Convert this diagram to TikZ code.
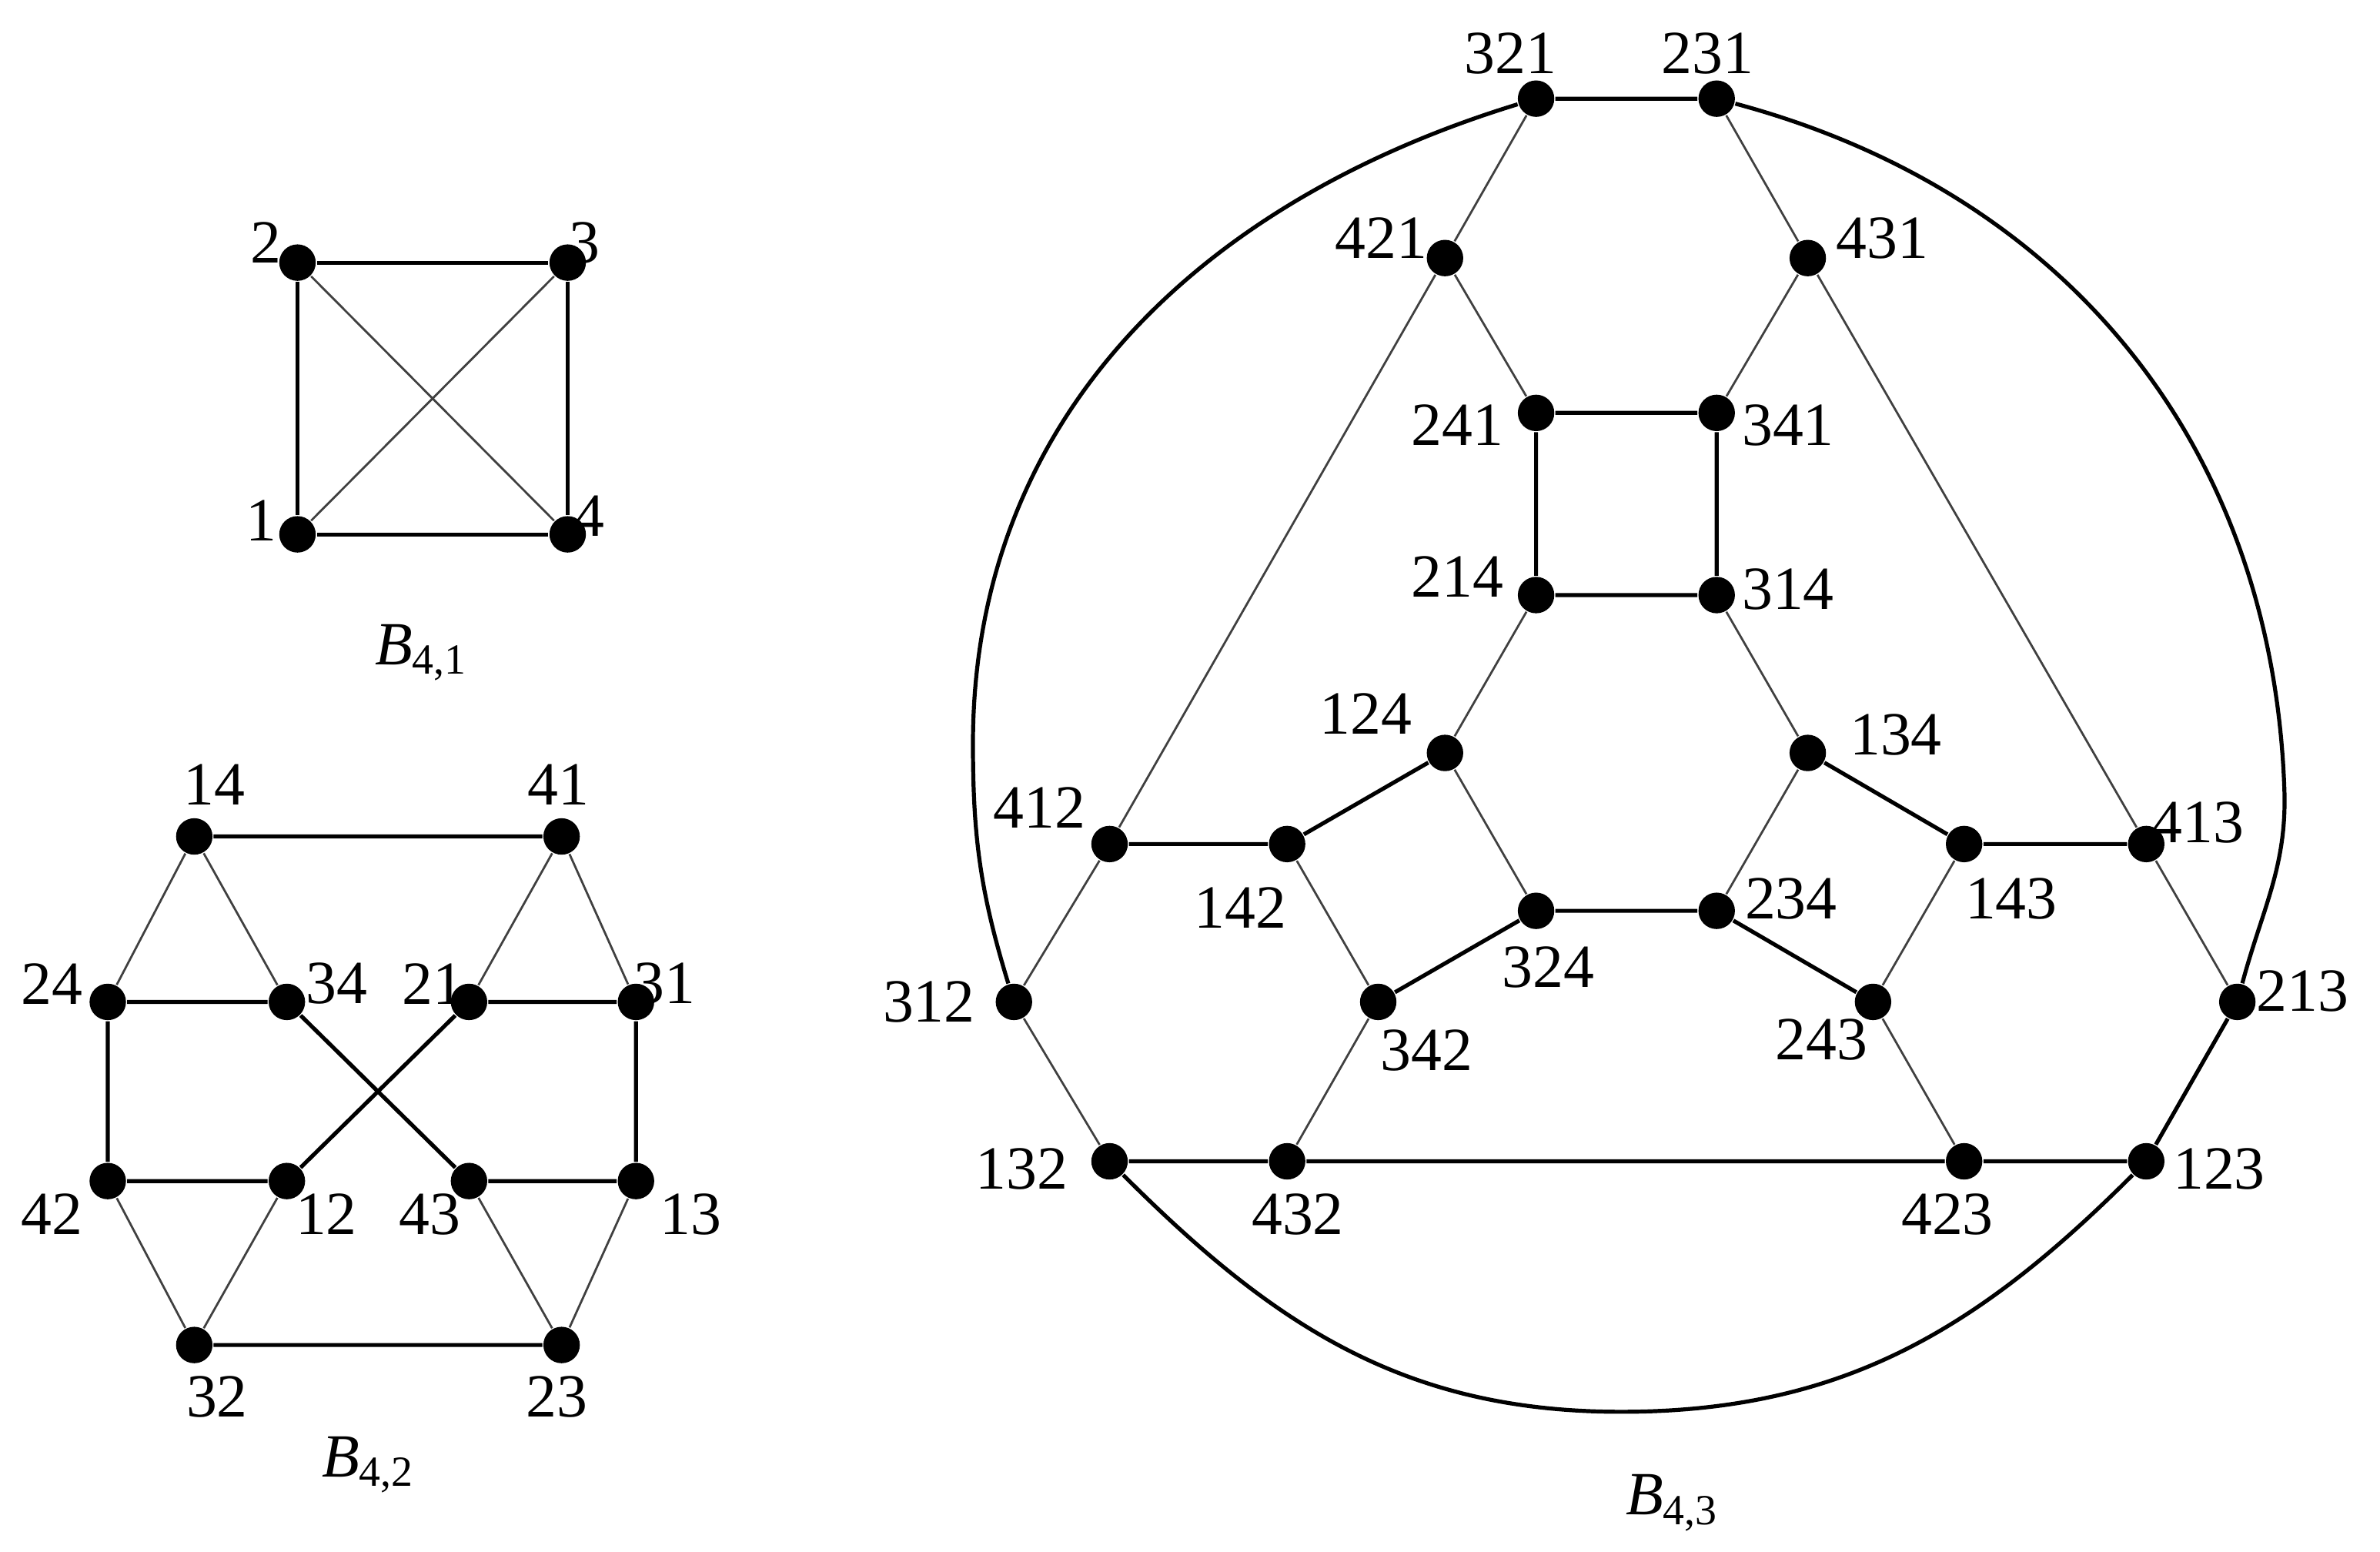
\documentclass[tikz,border=0pt]{standalone}
\usepackage{fontspec}
\setmainfont{Liberation Serif}
\begin{document}
\begin{tikzpicture}[x=0.01cm,y=-0.01cm,
  v/.style={circle,fill=black,inner sep=0pt,minimum width=0.22cm,minimum height=0.24cm},
  lab/.style={font=\fontsize{11.5}{13}\selectfont,inner sep=0pt},
  thk/.style={line width=0.75pt},
  thn/.style={line width=0.4pt,black!75}]
\useasboundingbox (0,0) rectangle (1568,1022);
\newcommand{\V}[6]{\node[v] (#1) at (#2,#3) {}; \node[lab] (#1l) at (#4,#5) {#6};}
\newcommand{\Bl}[1]{\textit{B}\textsubscript{#1}}
% B41
\V{a2}{196}{173}{175}{160}{2}
\V{a3}{374}{173}{385}{160}{3}
\V{a1}{196}{352}{172}{343}{1}
\V{a4}{374}{352}{388}{340}{4}
\draw[thk] (a2)--(a3)--(a4)--(a1)--(a2);
\draw[thn] (a2)--(a4) (a1)--(a3);
\node[lab] (t1) at (278,430) {\Bl{4,1}};
% B42
\V{b14}{128}{551}{141}{517}{14}
\V{b41}{370}{551}{368}{517}{41}
\V{b24}{71}{660}{34}{648}{24}
\V{b34}{189}{660}{222}{648}{34}
\V{b21}{309}{660}{285}{648}{21}
\V{b31}{419}{660}{438}{648}{31}
\V{b42}{71}{778}{34}{800}{42}
\V{b12}{189}{778}{215}{800}{12}
\V{b43}{309}{778}{283}{800}{43}
\V{b13}{419}{778}{455}{800}{13}
\V{b32}{128}{886}{143}{920}{32}
\V{b23}{370}{886}{367}{920}{23}
\draw[thk] (b14)--(b41) (b24)--(b34) (b21)--(b31) (b42)--(b12) (b43)--(b13) (b32)--(b23)
  (b24)--(b42) (b31)--(b13) (b34)--(b43) (b21)--(b12);
\draw[thn] (b14)--(b24) (b14)--(b34) (b41)--(b21) (b41)--(b31)
  (b42)--(b32) (b12)--(b32) (b43)--(b23) (b13)--(b23);
\node[lab] (t2) at (243,965) {\Bl{4,2}};
% B43
\V{c321}{1012}{65}{995}{35}{321}
\V{c231}{1131}{65}{1125}{35}{231}
\V{c421}{952}{170}{910}{157}{421}
\V{c431}{1191}{170}{1240}{157}{431}
\V{c241}{1012}{272}{960}{280}{241}
\V{c341}{1131}{272}{1178}{280}{341}
\V{c214}{1012}{392}{960}{380}{214}
\V{c314}{1131}{392}{1178}{388}{314}
\V{c124}{952}{496}{900}{470}{124}
\V{c134}{1191}{496}{1249}{484}{134}
\V{c412}{731}{556}{685}{532}{412}
\V{c142}{848}{556}{817}{598}{142}
\V{c143}{1294}{556}{1325}{592}{143}
\V{c413}{1414}{556}{1448}{542}{413}
\V{c324}{1012}{600}{1020}{637}{324}
\V{c234}{1131}{600}{1180}{592}{234}
\V{c312}{668}{660}{612}{660}{312}
\V{c342}{908}{660}{940}{692}{342}
\V{c243}{1234}{660}{1200}{685}{243}
\V{c213}{1474}{660}{1517}{653}{213}
\V{c132}{731}{765}{673}{770}{132}
\V{c432}{848}{765}{855}{800}{432}
\V{c423}{1294}{765}{1283}{800}{423}
\V{c123}{1414}{765}{1462}{770}{123}
\draw[thk] (c321)--(c231) (c241)--(c341)--(c314)--(c214)--(c241)
  (c124)--(c142) (c134)--(c143) (c412)--(c142) (c143)--(c413)
  (c324)--(c234) (c324)--(c342) (c234)--(c243)
  (c132)--(c432)--(c423)--(c123)--(c213);
\draw[thn] (c321)--(c421) (c231)--(c431) (c421)--(c241) (c431)--(c341)
  (c214)--(c124) (c314)--(c134) (c421)--(c412) (c431)--(c413)--(c213)
  (c124)--(c324) (c134)--(c234) (c142)--(c342) (c243)--(c143)
  (c412)--(c312)--(c132) (c342)--(c432) (c243)--(c423);
\draw[thk] (c321) to[out=197,in=90] (641,490) to[out=-90,in=107] (c312);
\draw[thk] (c231) to[out=-15,in=92] (1505,520) to[out=-88,in=75] (c213);
\draw[thk] (c132) to[out=-45,in=180] (1068,930) to[out=0,in=-135] (c123);
\node[lab] (t3) at (1102,990) {\Bl{4,3}};
\end{tikzpicture}
\end{document}
